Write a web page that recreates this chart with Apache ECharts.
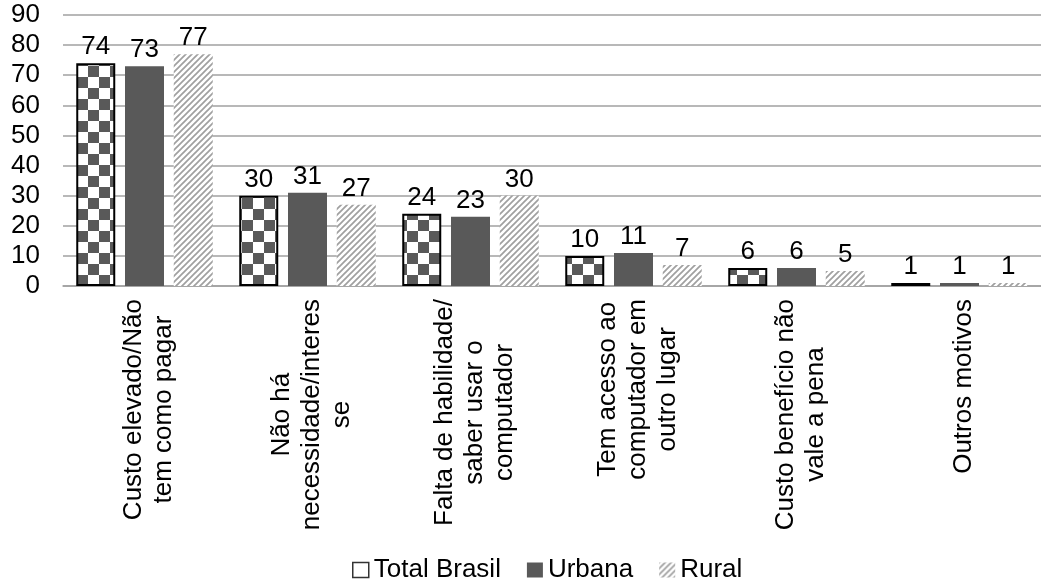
<!DOCTYPE html>
<html><head><meta charset="utf-8">
<script src="https://cdn.jsdelivr.net/npm/echarts@6/dist/echarts.min.js"></script>
<style>html,body{margin:0;padding:0;background:#fff}#c{width:1041px;height:587px}</style>
</head><body><div id="c"></div>
<script>
const categories = [
  "Custo elevado/Não\ntem como pagar",
  "Não há\nnecessidade/interes\nse",
  "Falta de habilidade/\nsaber usar o\ncomputador",
  "Tem acesso ao\ncomputador em\noutro lugar",
  "Custo benefício não\nvale a pena",
  "Outros motivos"
];
const seriesNames = ["Total Brasil", "Urbana", "Rural"];
const totalBrasil = [74, 30, 24, 10, 6, 1];
const urbana = [73, 31, 23, 11, 6, 1];
const rural = [77, 27, 30, 7, 5, 1];
const yTicks = { min: 0, max: 90, interval: 10 };

function checker() {
  const c = document.createElement('canvas');
  const s = 11;
  c.width = s * 2; c.height = s * 2;
  const g = c.getContext('2d');
  g.fillStyle = '#ffffff'; g.fillRect(0, 0, s * 2, s * 2);
  g.fillStyle = '#595959';
  g.fillRect(0, 0, s, s); g.fillRect(s, s, s, s);
  return c;
}
function stripes() {
  const c = document.createElement('canvas');
  const p = 6;
  c.width = p; c.height = p;
  const g = c.getContext('2d');
  g.fillStyle = '#ffffff'; g.fillRect(0, 0, p, p);
  g.strokeStyle = '#a0a0a0'; g.lineWidth = 1.7;
  g.beginPath();
  g.moveTo(-p, 2 * p); g.lineTo(2 * p, -p);
  g.moveTo(-p, p); g.lineTo(p, -p);
  g.moveTo(0, 2 * p); g.lineTo(2 * p, 0);
  g.stroke();
  return c;
}
const FONT = '"Liberation Sans", Arial, sans-serif';
const FS = 26;
const checkPat = { image: checker(), repeat: 'repeat' };
const stripePat = { image: stripes(), repeat: 'repeat' };

const labelCfg = {
  show: true, position: 'top', distance: 3,
  color: '#000', fontSize: FS, fontFamily: FONT
};

const chart = echarts.init(document.getElementById('c'), null, { renderer: 'canvas' });
chart.setOption({
  animation: false,
  backgroundColor: '#fff',
  grid: { left: 63, top: 15, width: 989, bottom: 301, containLabel: false },
  legend: {
    top: 552, left: 347,
    itemWidth: 16, itemHeight: 15, itemGap: 26,
    textStyle: { fontSize: FS, color: '#000', fontFamily: FONT },
    data: [
      { name: seriesNames[0], icon: 'rect', itemStyle: { color: '#fff', borderColor: '#333', borderWidth: 1.5 } },
      { name: seriesNames[1], icon: 'rect' },
      { name: seriesNames[2], icon: 'rect' }
    ]
  },
  xAxis: {
    type: 'category', data: categories,
    axisLine: { show: true, lineStyle: { color: '#a0a0a0', width: 1.5 } },
    axisTick: { show: false },
    axisLabel: {
      interval: 0, rotate: 90, margin: 13,
      padding: [8, 0, 0, 0],
      color: '#000', fontSize: FS, fontFamily: FONT,
      formatter: function (v) {
        return v.split('\n').map(function (l) { return '{c|' + l + '}'; }).join('\n');
      },
      rich: { c: { align: 'center', fontSize: FS, lineHeight: 30, fontFamily: FONT, color: '#000' } }
    }
  },
  yAxis: {
    type: 'value', min: yTicks.min, max: yTicks.max, interval: yTicks.interval,
    axisLine: { show: false }, axisTick: { show: false },
    axisLabel: { color: '#000', fontSize: FS, fontFamily: FONT, margin: 23 },
    splitLine: { lineStyle: { color: '#a0a0a0', width: 1.5 } }
  },
  series: [
    {
      name: seriesNames[0], type: 'bar', data: totalBrasil,
      barWidth: 39, barGap: '25%',
      itemStyle: { color: checkPat, borderColor: '#000', borderWidth: 2 },
      label: labelCfg
    },
    {
      name: seriesNames[1], type: 'bar', data: urbana,
      barWidth: 39, barGap: '25%',
      itemStyle: { color: '#595959' },
      label: labelCfg
    },
    {
      name: seriesNames[2], type: 'bar', data: rural,
      barWidth: 39, barGap: '25%',
      itemStyle: { color: stripePat },
      label: labelCfg
    }
  ]
});
</script>
</body></html>
